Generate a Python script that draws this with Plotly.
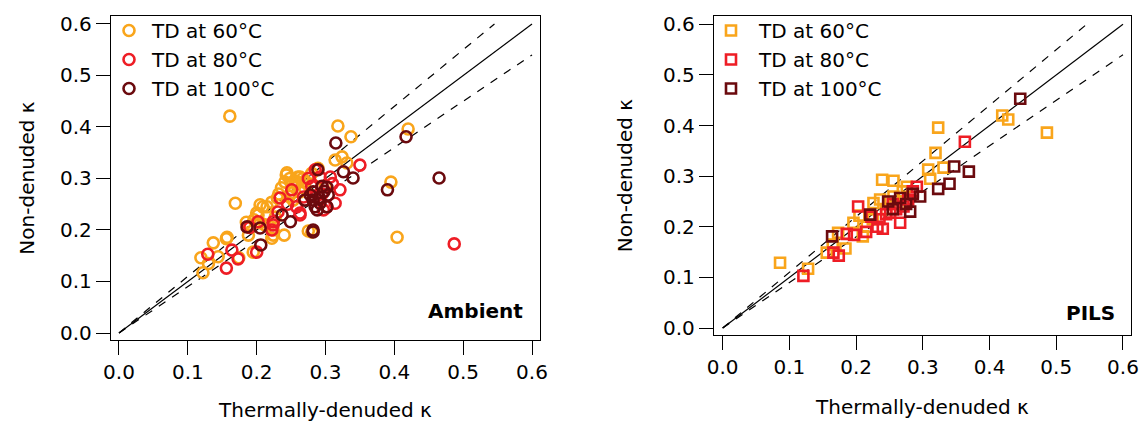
import plotly.graph_objects as go

# ---------------- data ----------------
labels = ["TD at 60°C", "TD at 80°C", "TD at 100°C"]
colors = ["#F9A51B", "#EE1D25", "#6B0A0E"]

amb60_x = [0.161, 0.318, 0.337, 0.420, 0.395, 0.404, 0.169, 0.275, 0.240, 0.324, 0.314, 0.243, 0.260, 0.253,
           0.289, 0.137, 0.156, 0.119, 0.122, 0.144, 0.174, 0.195, 0.205, 0.215, 0.202, 0.222, 0.224, 0.212,
           0.230, 0.244, 0.263, 0.241, 0.251, 0.270, 0.209, 0.222, 0.227, 0.200, 0.205, 0.280, 0.224, 0.188,
           0.157, 0.263, 0.251, 0.232, 0.256, 0.248, 0.331, 0.300, 0.270, 0.285, 0.130, 0.185, 0.196, 0.280,
           0.236, 0.258, 0.267, 0.247]
amb60_y = [0.421, 0.402, 0.381, 0.396, 0.293, 0.186, 0.252, 0.198, 0.190, 0.342, 0.336, 0.307, 0.303, 0.258,
           0.320, 0.175, 0.183, 0.146, 0.117, 0.148, 0.146, 0.157, 0.249, 0.245, 0.229, 0.184, 0.200, 0.210,
           0.262, 0.311, 0.303, 0.293, 0.287, 0.280, 0.245, 0.254, 0.225, 0.233, 0.214, 0.196, 0.190, 0.190,
           0.186, 0.274, 0.272, 0.270, 0.295, 0.300, 0.330, 0.285, 0.295, 0.285, 0.135, 0.215, 0.220, 0.310,
           0.282, 0.290, 0.300, 0.265]

amb80_x = [0.129, 0.156, 0.164, 0.173, 0.200, 0.202, 0.222, 0.224, 0.234, 0.231, 0.285, 0.292, 0.350, 0.251,
           0.268, 0.285, 0.307, 0.321, 0.314, 0.297, 0.224, 0.280, 0.487, 0.263, 0.302, 0.263, 0.190, 0.245,
           0.275, 0.258, 0.295, 0.310]
amb80_y = [0.153, 0.126, 0.161, 0.144, 0.157, 0.216, 0.200, 0.216, 0.262, 0.235, 0.317, 0.303, 0.326, 0.278,
           0.264, 0.264, 0.303, 0.278, 0.252, 0.239, 0.210, 0.285, 0.173, 0.229, 0.245, 0.233, 0.205, 0.250,
           0.300, 0.245, 0.270, 0.290]

amb100_x = [0.315, 0.289, 0.326, 0.340, 0.302, 0.282, 0.270, 0.282, 0.292, 0.302, 0.288, 0.304, 0.282, 0.282,
            0.237, 0.249, 0.186, 0.205, 0.206, 0.417, 0.465, 0.390, 0.291, 0.295, 0.285, 0.298, 0.278]
amb100_y = [0.369, 0.317, 0.313, 0.301, 0.283, 0.274, 0.258, 0.258, 0.252, 0.245, 0.239, 0.268, 0.200, 0.196,
            0.229, 0.216, 0.206, 0.204, 0.171, 0.381, 0.301, 0.278, 0.263, 0.285, 0.245, 0.275, 0.268]

pils60_x = [0.323, 0.319, 0.308, 0.331, 0.239, 0.256, 0.276, 0.311, 0.086, 0.128, 0.156, 0.184, 0.173, 0.210,
            0.196, 0.216, 0.226, 0.236, 0.256, 0.419, 0.428, 0.486, 0.270, 0.245, 0.265, 0.205, 0.225, 0.165]
pils60_y = [0.396, 0.346, 0.313, 0.317, 0.293, 0.291, 0.279, 0.295, 0.129, 0.117, 0.149, 0.157, 0.188, 0.181,
            0.208, 0.200, 0.247, 0.254, 0.260, 0.420, 0.412, 0.386, 0.270, 0.235, 0.245, 0.222, 0.215, 0.165]

pils80_x = [0.121, 0.166, 0.174, 0.186, 0.197, 0.203, 0.223, 0.240, 0.266, 0.251, 0.271, 0.278, 0.291, 0.363,
            0.285, 0.260, 0.245, 0.235, 0.255, 0.215, 0.232]
pils80_y = [0.103, 0.149, 0.143, 0.186, 0.184, 0.240, 0.220, 0.196, 0.208, 0.228, 0.240, 0.254, 0.279, 0.368,
            0.270, 0.235, 0.225, 0.215, 0.245, 0.190, 0.200]

pils100_x = [0.164, 0.221, 0.248, 0.266, 0.281, 0.296, 0.323, 0.446, 0.347, 0.369, 0.340, 0.255, 0.285, 0.275]
pils100_y = [0.181, 0.224, 0.250, 0.257, 0.230, 0.260, 0.275, 0.453, 0.319, 0.309, 0.285, 0.235, 0.265, 0.245]

line_x = [0.0, 0.6]
slope_hi = 1.1
slope_lo = 0.9

tick_vals = [0.0, 0.1, 0.2, 0.3, 0.4, 0.5, 0.6]
tick_text = ["0.0", "0.1", "0.2", "0.3", "0.4", "0.5", "0.6"]

# ---------------- figure ----------------
FONT = "DejaVu Sans, Liberation Sans, Arial, sans-serif"
W, H = 1142, 422
fig = go.Figure()

def ref_lines(xa, ya):
    fig.add_trace(go.Scatter(x=line_x, y=line_x, mode="lines", line=dict(color="black", width=1.2),
                             xaxis=xa, yaxis=ya, showlegend=False, hoverinfo="skip"))
    fig.add_trace(go.Scatter(x=[0.0, 0.6 / slope_hi], y=[0.0, 0.6], mode="lines",
                             line=dict(color="black", width=1.2, dash="8px,8px"),
                             xaxis=xa, yaxis=ya, showlegend=False, hoverinfo="skip"))
    fig.add_trace(go.Scatter(x=[0.0, 0.6], y=[0.0, 0.6 * slope_lo], mode="lines",
                             line=dict(color="black", width=1.2, dash="8px,8px"),
                             xaxis=xa, yaxis=ya, showlegend=False, hoverinfo="skip"))

ref_lines("x", "y")
ref_lines("x2", "y2")

for xs, ys, lab, col in zip([amb60_x, amb80_x, amb100_x], [amb60_y, amb80_y, amb100_y], labels, colors):
    fig.add_trace(go.Scatter(x=xs, y=ys, mode="markers", name=lab, xaxis="x", yaxis="y", legend="legend",
                             marker=dict(symbol="circle-open", size=11, color=col, line=dict(width=2.6, color=col))))

for xs, ys, lab, col in zip([pils60_x, pils80_x, pils100_x], [pils60_y, pils80_y, pils100_y], labels, colors):
    fig.add_trace(go.Scatter(x=xs, y=ys, mode="markers", name=lab, xaxis="x2", yaxis="y2", legend="legend2",
                             marker=dict(symbol="square-open", size=10, color=col, line=dict(width=2.6, color=col))))

def px_x(p):
    return p / W

def px_y(p):
    return 1 - p / H

axis_common = dict(showline=True, mirror=True, linecolor="black", linewidth=1.3, ticks="outside",
                   ticklen=14, tickwidth=1.3, tickcolor="black", showgrid=False, zeroline=False,
                   automargin=False,
                   tickvals=tick_vals, ticktext=tick_text, tickfont=dict(size=20, family=FONT, color="black"))

fig.update_layout(
    width=W, height=H, margin=dict(l=0, r=0, t=0, b=0, autoexpand=False),
    paper_bgcolor="white", plot_bgcolor="white",
    font=dict(family=FONT, size=20, color="black"),
    xaxis=dict(domain=[px_x(111), px_x(540)], range=[-0.0116, 0.6116], anchor="y",
               title=dict(text="Thermally-denuded κ", font=dict(size=20), standoff=21), **axis_common),
    yaxis=dict(domain=[px_y(340), px_y(16)], range=[-0.0136, 0.6155], anchor="x",
               title=dict(text="Non-denuded κ", font=dict(size=20), standoff=20), **axis_common),
    xaxis2=dict(domain=[px_x(714), px_x(1131)], range=[-0.013, 0.612], anchor="y2",
                title=dict(text="Thermally-denuded κ", font=dict(size=20), standoff=21), **axis_common),
    yaxis2=dict(domain=[px_y(335), px_y(16)], range=[-0.0138, 0.6165], anchor="x2",
                title=dict(text="Non-denuded κ", font=dict(size=20), standoff=25), **axis_common),
    legend=dict(x=px_x(106), y=px_y(11), xanchor="left", yanchor="top", bgcolor="rgba(0,0,0,0)",
                font=dict(size=20, family=FONT), itemwidth=36, tracegroupgap=0),
    legend2=dict(x=px_x(703), y=px_y(11), xanchor="left", yanchor="top", bgcolor="rgba(0,0,0,0)",
                 font=dict(size=20, family=FONT), itemwidth=46, tracegroupgap=0),
    annotations=[
        dict(text="<b>Ambient</b>", xref="paper", yref="paper", x=px_x(525), y=px_y(311),
             xanchor="right", yanchor="middle", showarrow=False, font=dict(size=20, family=FONT)),
        dict(text="<b>PILS</b>", xref="paper", yref="paper", x=px_x(1117), y=px_y(313),
             xanchor="right", yanchor="middle", showarrow=False, font=dict(size=20, family=FONT)),
    ],
)

fig.write_html("out.html", config={"displayModeBar": False},
               post_script="document.body.style.margin='0';document.body.style.padding='0';")
